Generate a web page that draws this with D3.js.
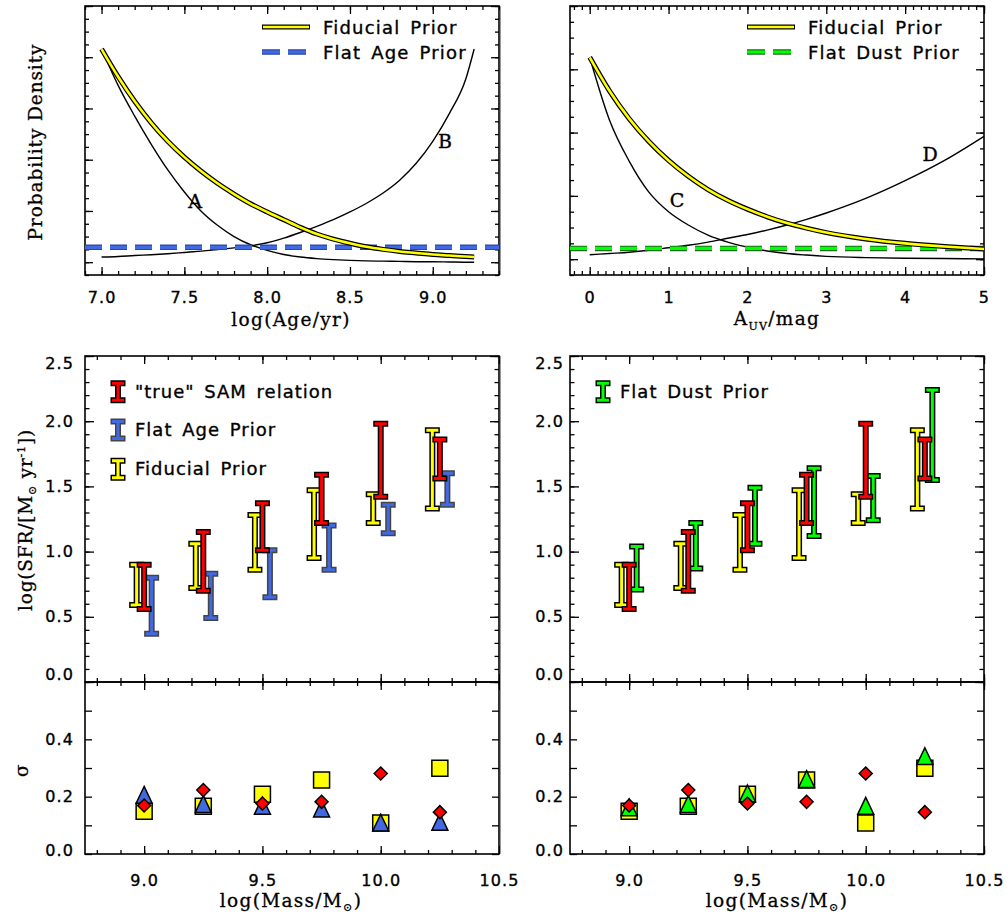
<!DOCTYPE html>
<html><head><meta charset="utf-8">
<script src="https://cdn.jsdelivr.net/npm/d3@7"></script>
<style>body{margin:0;background:#fff}</style>
</head><body>
<svg id="c" width="1008" height="916" xmlns="http://www.w3.org/2000/svg"></svg>
<script>
// ---------------- DATA ----------------
// Age prior panel
const ageGrid      = [7.0,7.1,7.2,7.3,7.4,7.5,7.6,7.7,7.8,7.9,8.0,8.1,8.2,8.3,8.4,8.5,8.6,8.7,8.8,8.9,9.0,9.1,9.2,9.25];
const ageFiducial  = [4.16,3.62,3.14,2.72,2.36,2.05,1.78,1.54,1.33,1.14,0.98,0.83,0.68,0.55,0.45,0.37,0.30,0.25,0.21,0.18,0.15,0.13,0.11,0.10];
const ageCurveA    = [4.16,3.45,2.85,2.30,1.80,1.37,1.00,0.72,0.50,0.34,0.23,0.15,0.10,0.07,0.05,0.035,0.025,0.02,0.015,0.01,0.01,0.005,0.0,0.0];
const ageCurveB    = [0.10,0.11,0.13,0.145,0.165,0.19,0.215,0.245,0.28,0.32,0.38,0.47,0.58,0.70,0.83,0.98,1.15,1.35,1.60,1.93,2.36,2.90,3.58,4.16];
const flatAgeLevel = 0.29;
// Dust prior panel
const dustGrid      = [0,0.25,0.5,0.75,1.0,1.25,1.5,1.75,2.0,2.25,2.5,2.75,3.0,3.5,4.0,4.5,5.0];
const dustFiducial  = [3.19,2.66,2.22,1.86,1.56,1.31,1.10,0.93,0.79,0.67,0.57,0.49,0.42,0.32,0.25,0.20,0.16];
const dustCurveC    = [3.19,2.20,1.55,1.06,0.75,0.54,0.38,0.27,0.19,0.13,0.09,0.065,0.045,0.025,0.015,0.01,0.005];
const dustCurveD    = [0.07,0.09,0.11,0.14,0.18,0.22,0.27,0.33,0.39,0.46,0.54,0.63,0.73,0.96,1.24,1.56,1.94];
const flatDustLevel = 0.17;
// SFR-mass relation
const massBins    = [9.0,9.25,9.5,9.75,10.0,10.25];
const samLo       = [0.56,0.70,1.01,1.22,1.42,1.56];
const samHi       = [0.90,1.15,1.37,1.59,1.98,1.86];
const flatAgeLo   = [0.37,0.49,0.65,0.86,1.14,1.36];
const flatAgeHi   = [0.80,0.83,1.01,1.20,1.36,1.60];
const fiducialLo  = [0.59,0.72,0.86,0.95,1.22,1.33];
const fiducialHi  = [0.90,1.06,1.28,1.47,1.44,1.93];
const flatDustLo  = [0.71,0.87,1.06,1.12,1.24,1.55];
const flatDustHi  = [1.04,1.22,1.49,1.64,1.58,2.24];
// scatter sigma
const sigmaSAM      = [0.169,0.223,0.176,0.182,0.281,0.146];
const sigmaFlatAge  = [0.205,0.173,0.167,0.157,0.108,0.111];
const sigmaFiducial = [0.149,0.167,0.208,0.258,0.108,0.299];
const sigmaFlatDust = [0.161,0.173,0.210,0.260,0.167,0.340];
// tick labels
const ageTickLabels   = [7.0,7.5,8.0,8.5,9.0];
const dustTickLabels  = [0,1,2,3,4,5];
const massTickLabels  = [9.0,9.5,10.0,10.5];
const sfrTickLabels   = [0.0,0.5,1.0,1.5,2.0,2.5];
const sigmaTickLabels = [0.0,0.2,0.4];

// ---------------- STYLE ----------------
const SANS = "'DejaVu Sans', sans-serif";
const SERIF = "'DejaVu Serif', serif";
const YEL = "#FFFF00", RED = "#FF0000", BLUE = "#4169E1", GREEN = "#00FF00";
const svg = d3.select("#c");

// ---------------- SCALES ----------------
const xL = [85, 499], xR = [570, 984];
const yTop = [275, 6], yMid = [682, 356], yBot = [854, 682];
const xAge  = d3.scaleLinear().domain([6.9, 9.4]).range(xL);
const yAge  = d3.scaleLinear().domain([-0.25, 5]).range(yTop);
const xDust = d3.scaleLinear().domain([-0.25, 5]).range(xR);
const yDust = d3.scaleLinear().domain([-0.25, 4]).range(yTop);
const xMassL = d3.scaleLinear().domain([8.75, 10.5]).range(xL);
const xMassR = d3.scaleLinear().domain([8.75, 10.5]).range(xR);
const ySfrL = d3.scaleLinear().domain([0, 2.5]).range(yMid);
const ySfrR = ySfrL.copy();
const ySigL = d3.scaleLinear().domain([0, 0.6]).range(yBot);
const ySigR = ySigL.copy();

const stepVals = (a, b, s) => d3.range(Math.round((b - a) / s) + 1).map(i => +(a + i * s).toFixed(4));

// ---------------- AXES ----------------
function axes(x, y, o) {
  const g = svg.append("g");
  const [xa, xb] = x.range(), [yb, ya] = y.range();
  function mk(fn, scale, vals, len, fmt, pad, tr) {
    const a = fn(scale).tickValues(vals).tickSize(-len).tickPadding(pad).tickFormat(fmt || (() => ""));
    const gg = g.append("g").attr("transform", tr).call(a);
    gg.select(".domain").remove();
    gg.selectAll("line").attr("stroke", "#000").attr("stroke-width", 1.3);
    gg.attr("font-family", SANS).attr("font-size", 16).attr("letter-spacing", 1.1);
    gg.selectAll("text").attr("fill", "#000").attr("stroke", "#000").attr("stroke-width", 0.35);
    return gg;
  }
  mk(d3.axisBottom, x, o.xMinor, o.xMinLen, null, 0, `translate(0,${yb})`);
  mk(d3.axisTop, x, o.xMinor, o.xMinLen, null, 0, `translate(0,${ya})`);
  mk(d3.axisTop, x, o.xMajor, o.xMajLen, null, 0, `translate(0,${ya})`);
  const bx = mk(d3.axisBottom, x, o.xMajor, o.xMajLen, o.xFmt, o.xPad || 0, `translate(0,${yb})`);
  mk(d3.axisLeft, y, o.yMinor, o.yMinLen, null, 0, `translate(${xa},0)`);
  mk(d3.axisRight, y, o.yMinor, o.yMinLen, null, 0, `translate(${xb},0)`);
  mk(d3.axisRight, y, o.yMajor, o.yMajLen, null, 0, `translate(${xb},0)`);
  const ly = mk(d3.axisLeft, y, o.yMajor, o.yMajLen, o.yFmt, o.yPad || 0, `translate(${xa},0)`);
  g.append("rect").attr("x", xa).attr("y", ya).attr("width", xb - xa).attr("height", yb - ya)
    .attr("fill", "none").attr("stroke", "#000").attr("stroke-width", 1.6);
  return { bx, ly };
}

// top-left
axes(xAge, yAge, {
  xMajor: ageTickLabels, xMinor: stepVals(6.9, 9.4, 0.1), xMajLen: 8, xMinLen: 4,
  xFmt: d3.format(".1f"), xPad: 17,
  yMajor: [0,1,2,3,4,5], yMinor: stepVals(-0.25, 5, 0.25), yMajLen: 8, yMinLen: 4
});
// top-right
axes(xDust, yDust, {
  xMajor: dustTickLabels, xMinor: stepVals(-0.2, 5, 0.1), xMajLen: 8, xMinLen: 4,
  xFmt: d3.format("d"), xPad: 17,
  yMajor: [0,1,2,3,4], yMinor: stepVals(-0.25, 4, 0.25), yMajLen: 8, yMinLen: 4
});
// middle
const midOpts = (pad) => ({
  xMajor: [9.0, 9.5, 10.0, 10.5], xMinor: stepVals(8.8, 10.5, 0.1), xMajLen: 8, xMinLen: 4,
  yMajor: sfrTickLabels, yMinor: stepVals(0, 2.5, 0.1), yMajLen: 9, yMinLen: 4.5,
  yFmt: d3.format(".1f"), yPad: pad
});
const mL = axes(xMassL, ySfrL, midOpts(11));
const mR = axes(xMassR, ySfrR, midOpts(6));
[mL, mR].forEach(a => a.ly.selectAll(".tick text").attr("dy", d => d === 2.5 ? "0.8em" : d === 0 ? "-0.15em" : "0.32em"));
// bottom
const botOpts = (pad) => ({
  xMajor: massTickLabels, xMinor: stepVals(8.8, 10.5, 0.1), xMajLen: 8, xMinLen: 4,
  xFmt: d3.format(".1f"), xPad: 21,
  yMajor: stepVals(0, 0.5, 0.1), yMinor: [], yMajLen: 7, yMinLen: 0,
  yFmt: d => sigmaTickLabels.some(v => Math.abs(v - d) < 1e-6) ? d3.format(".1f")(d) : "", yPad: pad
});
const bL = axes(xMassL, ySigL, botOpts(11));
const bR = axes(xMassR, ySigR, botOpts(6));
[bL, bR].forEach(a => a.ly.selectAll(".tick text").attr("dy", d => d === 0 ? "0.12em" : "0.32em"));

// gray separator line
svg.append("line").attr("x1", 500.5).attr("x2", 500.5).attr("y1", 6).attr("y2", 275).attr("stroke", "#999").attr("stroke-width", 1);
svg.append("line").attr("x1", 500.5).attr("x2", 500.5).attr("y1", 356).attr("y2", 854).attr("stroke", "#999").attr("stroke-width", 1);

// ---------------- TOP PANELS ----------------
function curvePanel(x, y, grid, fid, c1, c2, flatLevel, flatColor, flatDark) {
  const line = d3.line().x(d => x(d[0])).y(d => y(d[1])).curve(d3.curveMonotoneX);
  const g = svg.append("g");
  [c1, c2].forEach(c => g.append("path").attr("d", line(d3.zip(grid, c)))
    .attr("fill", "none").attr("stroke", "#000").attr("stroke-width", 1.4));
  const [d0, d1] = x.domain();
  const flat = [[d0, flatLevel], [d1, flatLevel]];
  const fl = d3.line().x(d => x(d[0])).y(d => y(d[1]));
  g.append("path").attr("d", fl(flat))
    .attr("stroke", flatDark).attr("stroke-width", 5.5).attr("stroke-dasharray", "17 8").attr("fill", "none");
  g.append("path").attr("d", fl(flat))
    .attr("stroke", flatColor).attr("stroke-width", 3.2).attr("stroke-dasharray", "17 8").attr("fill", "none");
  const fp = line(d3.zip(grid, fid));
  g.append("path").attr("d", fp).attr("fill", "none").attr("stroke", "#000").attr("stroke-width", 5);
  g.append("path").attr("d", fp).attr("fill", "none").attr("stroke", YEL).attr("stroke-width", 2.6);
}
curvePanel(xAge, yAge, ageGrid, ageFiducial, ageCurveA, ageCurveB, flatAgeLevel, BLUE, "#2a47a8");
curvePanel(xDust, yDust, dustGrid, dustFiducial, dustCurveC, dustCurveD, flatDustLevel, GREEN, "#1d6b1d");

function label(txt, x, y, size, family, anchor) {
  return svg.append("text").attr("x", x).attr("y", y).attr("font-family", family || SERIF)
    .attr("font-size", size).attr("text-anchor", anchor || "middle").attr("fill", "#000")
    .attr("stroke", "#000").attr("stroke-width", 0.35).text(txt);
}
label("A", 195, 208, 19);
label("B", 445, 148, 19);
label("C", 677, 207, 19);
label("D", 930, 161, 19);

// top legends
function lineLegend(x0, names, colors, darks) {
  const rows = [27, 52];
  svg.append("line").attr("x1", x0).attr("x2", x0 + 48).attr("y1", rows[0]).attr("y2", rows[0]).attr("stroke", "#000").attr("stroke-width", 5);
  svg.append("line").attr("x1", x0 + 1).attr("x2", x0 + 47).attr("y1", rows[0]).attr("y2", rows[0]).attr("stroke", YEL).attr("stroke-width", 2.6);
  svg.append("line").attr("x1", x0).attr("x2", x0 + 45).attr("y1", rows[1]).attr("y2", rows[1]).attr("stroke", darks).attr("stroke-width", 5.5).attr("stroke-dasharray", "18 8");
  svg.append("line").attr("x1", x0).attr("x2", x0 + 45).attr("y1", rows[1]).attr("y2", rows[1]).attr("stroke", colors).attr("stroke-width", 3.2).attr("stroke-dasharray", "18 8");
  names.forEach((n, i) => label(n, x0 + 61, rows[i] + 6.5, 18, SANS, "start").attr("letter-spacing", 1.2).attr("word-spacing", 3));
}
lineLegend(262, ["Fiducial Prior", "Flat Age Prior"], BLUE, "#2a47a8");
lineLegend(747, ["Fiducial Prior", "Flat Dust Prior"], GREEN, "#1d6b1d");

// ---------------- ERROR BARS ----------------
const HW = 4.5;
function ibeam(g, cx, yt, yb, color, outline) {
  const p = `M${cx - HW},${yt}H${cx + HW}M${cx},${yt}V${yb}M${cx - HW},${yb}H${cx + HW}`;
  g.append("path").attr("d", p).attr("fill", "none").attr("stroke", outline).attr("stroke-width", 6).attr("stroke-linecap", "square");
  g.append("path").attr("d", p).attr("fill", "none").attr("stroke", color).attr("stroke-width", 3).attr("stroke-linecap", "square");
}
function bars(x, y, lo, hi, dx, color, outline) {
  const g = svg.append("g");
  massBins.forEach((m, i) => ibeam(g, x(m) + dx, y(hi[i]), y(lo[i]), color, outline));
}
bars(xMassL, ySfrL, flatAgeLo, flatAgeHi, 7.5, BLUE, "#444");
bars(xMassL, ySfrL, fiducialLo, fiducialHi, -7.5, YEL, "#000");
bars(xMassL, ySfrL, samLo, samHi, 0, RED, "#000");
bars(xMassR, ySfrR, flatDustLo, flatDustHi, 7.5, GREEN, "#000");
bars(xMassR, ySfrR, fiducialLo, fiducialHi, -7.5, YEL, "#000");
bars(xMassR, ySfrR, samLo, samHi, 0, RED, "#000");

// middle legends
function barLegend(x0, items) {
  const rows = [391.7, 430, 469.3];
  items.forEach((it, i) => {
    ibeam(svg.append("g"), x0, rows[i] - 8.5, rows[i] + 8.5, it[1], it[2]);
    label(it[0], x0 + 17, rows[i] + 6, 18, SANS, "start").attr("letter-spacing", 1).attr("word-spacing", 3);
  });
}
barLegend(118, [["\"true\" SAM relation", RED, "#000"], ["Flat Age Prior", BLUE, "#444"], ["Fiducial Prior", YEL, "#000"]]);
barLegend(603, [["Flat Dust Prior", GREEN, "#000"]]);

// ---------------- SIGMA MARKERS ----------------
const symSquare = { draw(ctx, size) { const r = Math.sqrt(size) / 2; ctx.rect(-r, -r, 2 * r, 2 * r); } };
const symDiamond = { draw(ctx, size) { const r = Math.sqrt(size) / 2; ctx.moveTo(0, -r); ctx.lineTo(r, 0); ctx.lineTo(0, r); ctx.lineTo(-r, 0); ctx.closePath(); } };
const symTri = { draw(ctx, size) { const r = Math.sqrt(size) / 2; ctx.moveTo(0, -r * 1.1); ctx.lineTo(r, r); ctx.lineTo(-r, r); ctx.closePath(); } };
function markers(x, y, vals, type, size, color) {
  svg.append("g").selectAll("path").data(massBins.map((m, i) => [m, vals[i]])).join("path")
    .attr("transform", d => `translate(${x(d[0])},${y(d[1])})`)
    .attr("d", d3.symbol().type(type).size(size))
    .attr("fill", color).attr("stroke", "#000").attr("stroke-width", 1.5);
}
markers(xMassL, ySigL, sigmaFiducial, symSquare, 256, YEL);
markers(xMassL, ySigL, sigmaFlatAge, symTri, 256, BLUE);
markers(xMassL, ySigL, sigmaSAM, symDiamond, 169, RED);
markers(xMassR, ySigR, sigmaFiducial, symSquare, 256, YEL);
markers(xMassR, ySigR, sigmaFlatDust, symTri, 256, GREEN);
markers(xMassR, ySigR, sigmaSAM, symDiamond, 169, RED);

// ---------------- TITLES ----------------
function title(x, y, rot) {
  const t = svg.append("text").attr("font-family", SERIF).attr("font-size", 18.5).attr("fill", "#000")
    .attr("stroke", "#000").attr("stroke-width", 0.3)
    .attr("text-anchor", "middle").attr("letter-spacing", 1.3);
  if (rot) t.attr("transform", `translate(${x},${y}) rotate(-90)`); else t.attr("x", x).attr("y", y);
  return t;
}
title(291, 326).text("log(Age/yr)");
(() => { const t = title(777, 325); t.append("tspan").text("A"); t.append("tspan").attr("font-size", 11).attr("dy", 5).text("UV"); t.append("tspan").attr("dy", -5).text("/mag"); })();
[291, 777].forEach(cx => { const t = title(cx, 907); t.append("tspan").text("log(Mass/M"); t.append("tspan").attr("font-size", 11).attr("dy", 4).text("⊙"); t.append("tspan").attr("dy", -4).text(")"); });
title(42, 142, true).attr("letter-spacing", 0.9).text("Probability Density");
(() => { const t = title(32, 520, true).attr("letter-spacing", 0.8);
  t.append("tspan").text("log(SFR/[M"); t.append("tspan").attr("font-size", 11).attr("dy", 4).text("⊙");
  t.append("tspan").attr("dy", -4).text(" yr"); t.append("tspan").attr("font-size", 11).attr("dy", -7).text("-1");
  t.append("tspan").attr("dy", 7).text("])"); })();
title(28, 770, true).text("σ");
</script>
</body></html>
